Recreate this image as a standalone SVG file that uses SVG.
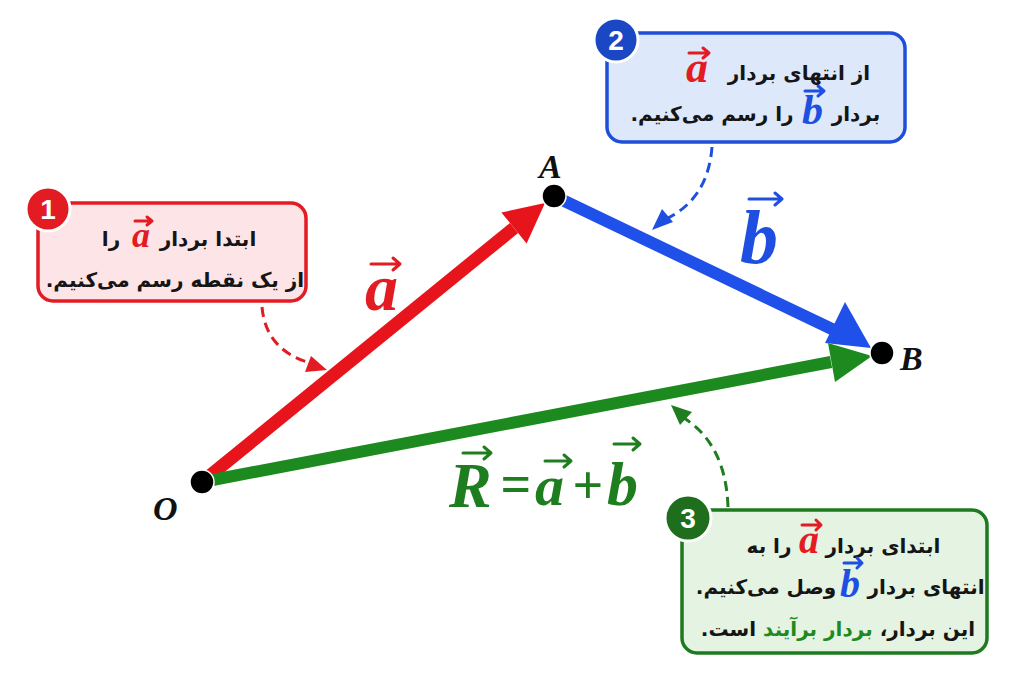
<svg xmlns="http://www.w3.org/2000/svg" width="1024" height="683" viewBox="0 0 1024 683">
<defs>
<style>
.fa{font-family:"DejaVu Sans",sans-serif;font-weight:bold;font-size:20px;fill:#151515}
.vl{font-family:"Liberation Serif",serif;font-weight:bold;font-style:italic}
.pt{font-family:"Liberation Serif",serif;font-weight:bold;font-style:italic;font-size:34px;fill:#111}
.num{font-family:"Liberation Sans",sans-serif;font-weight:bold;font-size:28px;fill:#fff}
.op{font-family:"Liberation Serif",serif;font-weight:bold;font-size:54px}
.va{stroke-width:3;fill:none;stroke-linecap:round;stroke-linejoin:round}
.dash{fill:none;stroke-width:3;stroke-dasharray:10 6}
.red{fill:#e31b23}
.blue{fill:#1f4fe0}
.green{fill:#1e7d1e}
.sred{stroke:#e31b23}
.sblue{stroke:#1f4fe0}
.sgreen{stroke:#1e7d1e}
</style>
</defs>
<rect width="1024" height="683" fill="#fff"/>
<g id="connectors">
  <g id="vec-a">
    <line x1="202" y1="482" x2="514" y2="228" stroke="#e8141c" stroke-width="13"/>
    <polygon points="545,203 501.4,212.5 526.6,243.5" fill="#e8141c"/>
  </g>
  <g id="vec-b">
    <line x1="554" y1="196" x2="834" y2="330" stroke="#1f50ea" stroke-width="12"/>
    <polygon points="871,348 825,343 845,302" fill="#1f50ea"/>
  </g>
  <g id="vec-R">
    <line x1="202" y1="482" x2="831" y2="362" stroke="#1d8a1f" stroke-width="12"/>
    <polygon points="872,356 828,343 835,382" fill="#1d8a1f"/>
  </g>
  <g id="pointer-1">
    <path d="M262,307 Q266,352 314,364" class="dash sred"/>
    <polygon points="327,370 305,372 311,356" class="red"/>
  </g>
  <g id="pointer-2">
    <path d="M712,147 Q708,200 664,220" class="dash sblue"/>
    <polygon points="652,230 662,209 673,222" class="blue"/>
  </g>
  <g id="pointer-3">
    <path d="M728,507 Q726,445 684,418" class="dash sgreen"/>
    <polygon points="671,405 692,412 680,425" class="green"/>
  </g>
</g>
<g id="node-O">
  <circle cx="202" cy="482" r="12" fill="#000" stroke="#fff" stroke-width="1.5"/>
  <text x="153" y="520" class="pt">O</text>
</g>
<g id="node-A">
  <circle cx="554" cy="196" r="12" fill="#000" stroke="#fff" stroke-width="1.5"/>
  <text x="539" y="178" class="pt">A</text>
</g>
<g id="node-B">
  <circle cx="882" cy="353" r="12" fill="#000" stroke="#fff" stroke-width="1.5"/>
  <text x="900" y="370" class="pt">B</text>
</g>
<g id="label-a">
  <text x="365" y="310" class="vl red" font-size="66">a</text>
  <path d="M371,264 H400 M393,258 L400,264 L393,270" class="va sred" stroke-width="4"/>
</g>
<g id="label-b">
  <text x="740" y="263" class="vl blue" font-size="76">b</text>
  <path d="M749,199 H782 M775,193 L782,199 L775,205" class="va sblue" stroke-width="4"/>
</g>
<g id="label-R">
  <text x="449" y="507" class="vl green" font-size="64">R</text>
  <path d="M463,453 H491 M484,447 L491,453 L484,459" class="va sgreen" stroke-width="4"/>
  <text x="516" y="502" text-anchor="middle" class="op green">=</text>
  <text x="535" y="505" class="vl green" font-size="58">a</text>
  <path d="M545,461 H571 M564,455 L571,461 L564,467" class="va sgreen" stroke-width="4"/>
  <text x="588" y="503" text-anchor="middle" class="op green">+</text>
  <text x="607" y="505" class="vl green" font-size="62">b</text>
  <path d="M614,444 H640 M633,438 L640,444 L633,450" class="va sgreen" stroke-width="4"/>
</g>
<g id="box-1">
  <rect x="38" y="203" width="268" height="98" rx="15" fill="#fde5e7" stroke="#e31b23" stroke-width="3.5"/>
  <circle cx="48" cy="209" r="22" fill="#e31b23" stroke="#fff" stroke-width="3"/>
  <text x="48" y="219" text-anchor="middle" class="num">1</text>
  <text x="208" y="246" text-anchor="middle" direction="rtl" class="fa">ابتدا بردار</text>
  <text x="132" y="247" class="vl red" font-size="36">a</text>
  <path d="M135,221 H152 M147,217 L152,221 L147,225" class="va sred" stroke-width="2.5"/>
  <text x="111" y="246" text-anchor="middle" direction="rtl" class="fa">را</text>
  <text x="175" y="287" text-anchor="middle" direction="rtl" class="fa">از یک نقطه رسم می‌کنیم.</text>
</g>
<g id="box-2">
  <rect x="607" y="33" width="298" height="109" rx="15" fill="#dde8fa" stroke="#1f4fd8" stroke-width="3.5"/>
  <circle cx="616" cy="40" r="22" fill="#1a47c4" stroke="#fff" stroke-width="3"/>
  <text x="616" y="50" text-anchor="middle" class="num">2</text>
  <text x="799" y="80" text-anchor="middle" direction="rtl" class="fa">از انتهای بردار</text>
  <text x="686" y="82" class="vl red" font-size="44">a</text>
  <path d="M689,53 H709 M703,48 L709,53 L703,58" class="va sred" stroke-width="3"/>
  <text x="856" y="121" text-anchor="middle" direction="rtl" class="fa">بردار</text>
  <text x="802" y="124" class="vl blue" font-size="42">b</text>
  <path d="M805,91 H824 M818,86 L824,91 L818,96" class="va sblue" stroke-width="3"/>
  <text x="712" y="121" text-anchor="middle" direction="rtl" class="fa">را رسم می‌کنیم.</text>
</g>
<g id="box-3">
  <rect x="682" y="510" width="305" height="143" rx="15" fill="#e5f3e2" stroke="#1e7a1e" stroke-width="3.5"/>
  <circle cx="688" cy="518" r="23" fill="#1e6e1e" stroke="#fff" stroke-width="3"/>
  <text x="688" y="528" text-anchor="middle" class="num">3</text>
  <text x="883" y="553" text-anchor="middle" direction="rtl" class="fa">ابتدای بردار</text>
  <text x="799" y="553" class="vl red" font-size="40">a</text>
  <path d="M802,525 H821 M816,520 L821,525 L816,530" class="va sred" stroke-width="3"/>
  <text x="769" y="553" text-anchor="middle" direction="rtl" class="fa">را به</text>
  <text x="926" y="594" text-anchor="middle" direction="rtl" class="fa">انتهای بردار</text>
  <text x="840" y="597" class="vl blue" font-size="40">b</text>
  <path d="M844,563 H862 M857,558 L862,563 L857,568" class="va sblue" stroke-width="3"/>
  <text x="766" y="594" text-anchor="middle" direction="rtl" class="fa">وصل می‌کنیم.</text>
  <text x="838" y="636" text-anchor="middle" direction="rtl" class="fa">این بردار، <tspan style="fill:#1e8a1e">بردار برآیند</tspan> است.</text>
</g>
</svg>
